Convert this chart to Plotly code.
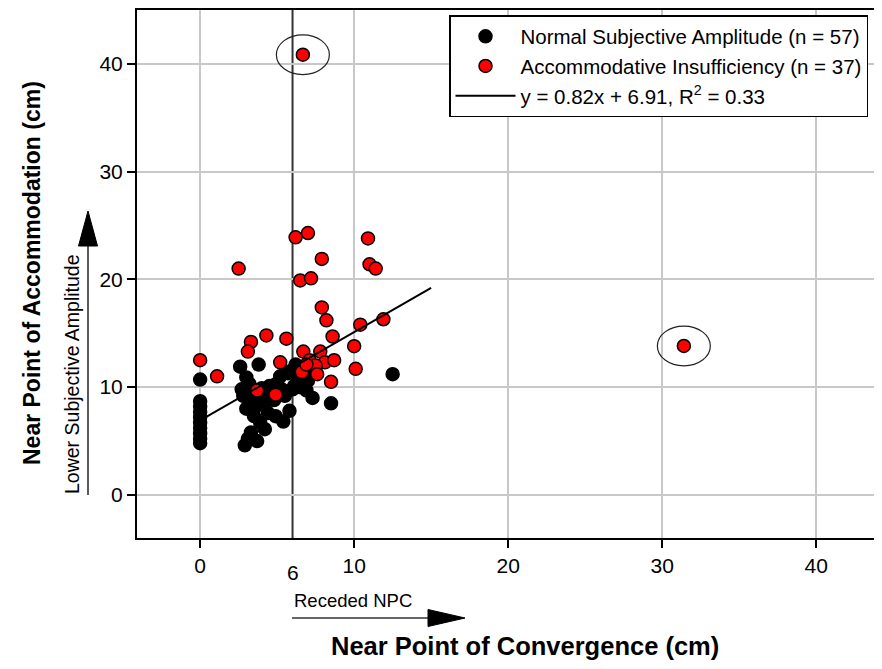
import plotly.graph_objects as go

# ---------------- data ----------------
normal_x = [0, 0, 0, 0, 0, 0, 0, 0, 0, 0,
            2.6, 3.8, 3.0, 2.7, 2.8, 3.2, 3.9, 3.0, 3.5, 4.4,
            5.8, 5.4, 4.2, 3.3, 3.1, 2.9, 3.7, 4.7, 5.5, 6.1,
            6.5, 7.0, 7.3, 8.5, 12.5, 5.2, 5.7, 6.2, 4.2, 4.8,
            5.0, 6.8, 6.3, 4.0, 3.4, 6.0, 4.5, 5.9, 6.6, 3.6,
            4.9, 3.9, 5.3, 7.1, 6.9, 4.0, 3.2]
normal_y = [10.7, 8.7, 8.2, 7.7, 7.2, 6.7, 6.2, 5.7, 5.2, 4.8,
            11.9, 12.1, 10.9, 9.8, 9.2, 9.5, 8.9, 8.0, 7.3, 7.6,
            7.8, 6.8, 6.1, 5.8, 5.2, 4.6, 5.0, 9.5, 9.2, 10.1,
            10.0, 10.6, 9.0, 8.5, 11.2, 11.0, 11.3, 12.1, 8.5, 8.8,
            10.2, 10.2, 11.0, 9.9, 9.1, 9.8, 10.1, 11.5, 10.8, 8.2,
            7.3, 6.7, 9.8, 11.1, 9.7, 9.3, 10.3]

ai_x = [6.67, 31.41, 6.2, 7.0, 10.9, 2.5, 7.9, 11.0, 11.4, 6.5,
        7.2, 7.9, 8.2, 10.4, 11.9, 8.6, 4.3, 5.6, 3.3, 3.1,
        10.0, 0.0, 1.1, 6.7, 7.8, 5.2, 7.1, 8.1, 8.7, 7.5,
        6.6, 7.6, 10.1, 8.5, 3.7, 4.9, 6.9]
ai_y = [40.85, 13.82, 23.9, 24.3, 23.8, 21.0, 21.9, 21.4, 21.0, 19.9,
        20.1, 17.4, 16.2, 15.8, 16.3, 14.7, 14.8, 14.5, 14.2, 13.3,
        13.8, 12.5, 11.0, 13.3, 13.3, 12.3, 12.5, 12.3, 12.5, 12.0,
        11.4, 11.2, 11.7, 10.5, 9.7, 9.3, 12.1]

slope = 0.82
intercept = 6.91
fit_x = [0, 15]
fit_y = [slope * v + intercept for v in fit_x]

npc_cutoff = 6
outlier_idx = [0, 1]

x_ticks = [0, 10, 20, 30, 40]
y_ticks = [0, 10, 20, 30, 40]

FONT = "Liberation Sans, Arial, sans-serif"

# page is offset by the 8px body margin; figure sized to fit the window
FIG_W, FIG_H = 866, 653
ML, MT, MB, MR = 129, 2, 123, 0
PW = FIG_W - ML - MR
PH = FIG_H - MT - MB


def px(X):  # page pixel -> paper x
    return (X - 8 - ML) / PW


def py(Y):  # page pixel -> paper y
    return (FIG_H - MB + 8 - Y) / PH


fig = go.Figure()
fig.add_trace(go.Scatter(
    x=normal_x, y=normal_y, mode="markers",
    name="Normal Subjective Amplitude (n = 57)",
    marker=dict(color="black", size=13, line=dict(color="black", width=1.5)),
))
fig.add_trace(go.Scatter(
    x=ai_x, y=ai_y, mode="markers",
    name="Accommodative Insufficiency (n = 37)",
    marker=dict(color="#ff0000", size=13, line=dict(color="black", width=1.5)),
))
fig.add_trace(go.Scatter(
    x=fit_x, y=fit_y, mode="lines",
    name="y = 0.82x + 6.91, R<sup>2</sup> = 0.33",
    line=dict(color="black", width=2),
))

shapes = []
# vertical cutoff line
shapes.append(dict(type="line", x0=npc_cutoff, x1=npc_cutoff, y0=0, y1=1,
                   xref="x", yref="paper", line=dict(color="#333333", width=2),
                   layer="below"))
# ellipses around outliers
for i in outlier_idx:
    cx, cy = ai_x[i], ai_y[i]
    shapes.append(dict(type="circle", xref="x", yref="y",
                       x0=cx - 1.72, x1=cx + 1.72, y0=cy - 1.85, y1=cy + 1.85,
                       line=dict(color="#222222", width=1.2)))

# vertical arrow (Lower Subjective Amplitude)
shapes.append(dict(type="line", xref="paper", yref="paper",
                   x0=px(88), x1=px(88), y0=py(495), y1=py(240),
                   line=dict(color="black", width=1.3)))
shapes.append(dict(type="path", xref="paper", yref="paper",
                   path=f"M {px(88)} {py(211)} L {px(78.5)} {py(246)} "
                        f"L {px(97.5)} {py(246)} Z",
                   fillcolor="black", line=dict(color="black", width=1)))
# horizontal arrow (Receded NPC)
shapes.append(dict(type="line", xref="paper", yref="paper",
                   x0=px(292), x1=px(440), y0=py(618), y1=py(618),
                   line=dict(color="#333333", width=1.3)))
shapes.append(dict(type="path", xref="paper", yref="paper",
                   path=f"M {px(465)} {py(618)} L {px(428)} {py(609.5)} "
                        f"L {px(428)} {py(626.5)} Z",
                   fillcolor="black", line=dict(color="black", width=1)))

annotations = [
    dict(text="6", x=npc_cutoff, xref="x", y=py(572), yref="paper",
         xanchor="center", yanchor="middle",
         showarrow=False, font=dict(size=21, color="black", family=FONT)),
    dict(text="<b>Near Point of Accommodation (cm)</b>", x=px(32), y=py(273),
         xref="paper", yref="paper", xanchor="center", yanchor="middle",
         showarrow=False, textangle=-90,
         font=dict(size=23, color="black", family=FONT)),
    dict(text="<b>Near Point of Convergence (cm)</b>", x=px(525), y=py(646),
         xref="paper", yref="paper", xanchor="center", yanchor="middle",
         showarrow=False,
         font=dict(size=25.5, color="black", family=FONT)),
    dict(text="Lower Subjective Amplitude", x=px(72), y=py(374),
         xref="paper", yref="paper", xanchor="center", yanchor="middle",
         showarrow=False, textangle=-90,
         font=dict(size=19.5, color="black", family=FONT)),
    dict(text="Receded NPC", x=px(292), y=py(600), xref="paper", yref="paper",
         xanchor="left", yanchor="middle", showarrow=False,
         font=dict(size=18.5, color="black", family=FONT)),
]

fig.update_layout(
    width=FIG_W, height=FIG_H,
    margin=dict(l=ML, r=MR, t=MT, b=MB, autoexpand=False),
    paper_bgcolor="white", plot_bgcolor="white",
    font=dict(family=FONT, color="black"),
    showlegend=True,
    legend=dict(x=px(449), y=py(15), xanchor="left", yanchor="top",
                bordercolor="black", borderwidth=1.5, bgcolor="white",
                itemwidth=60,
                font=dict(size=20.5, color="black", family=FONT)),
    shapes=shapes,
    annotations=annotations,
    xaxis=dict(range=[-4.1, -4.1 + PW / 15.4], tickvals=x_ticks, showgrid=True,
               gridcolor="#c8c8c8", gridwidth=1.5, zeroline=False,
               showline=True, linecolor="black", linewidth=2, mirror=True,
               ticks="outside", ticklen=8, tickwidth=1.5, tickcolor="black",
               tickfont=dict(size=21, color="black", family=FONT)),
    yaxis=dict(range=[-4.0, 45.0], tickvals=y_ticks, showgrid=True,
               gridcolor="#c8c8c8", gridwidth=1.5, zeroline=False,
               showline=True, linecolor="black", linewidth=2, mirror=False,
               ticks="outside", ticklen=8, tickwidth=1.5, tickcolor="black",
               tickfont=dict(size=21, color="black", family=FONT)),
)

fig.write_html("out.html")
